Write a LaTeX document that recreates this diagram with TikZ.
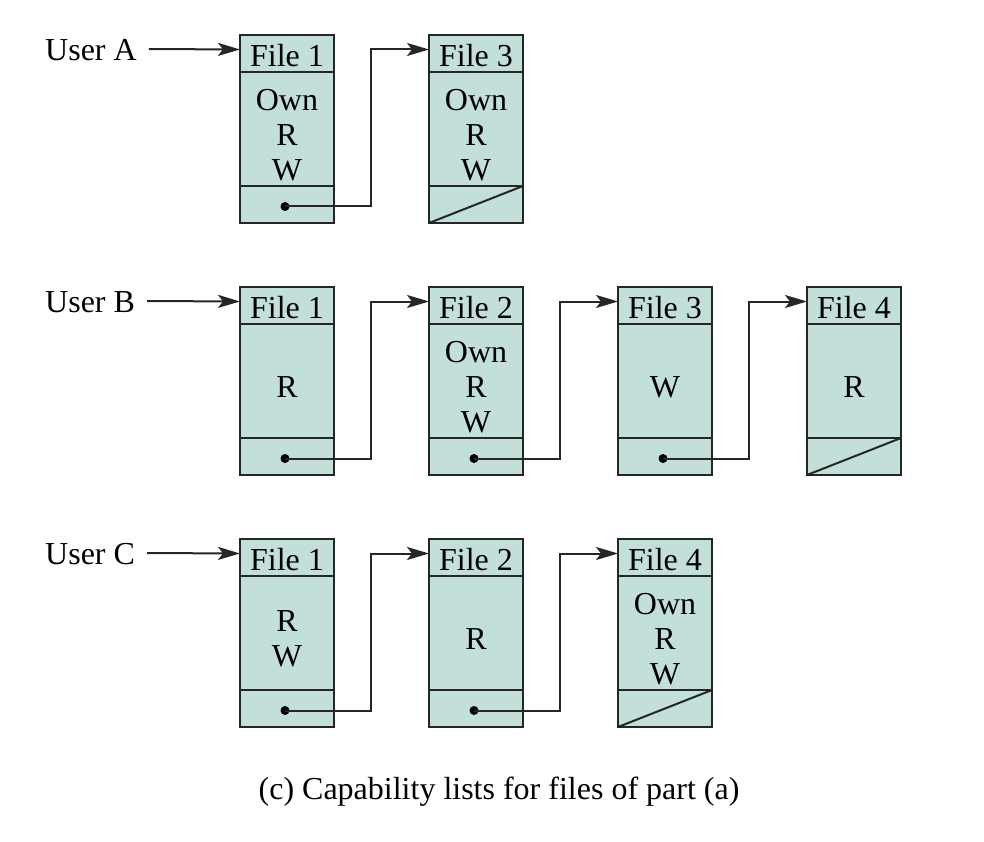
\documentclass[tikz,border=0pt]{standalone}
\usepackage{fontspec}
\setmainfont{Liberation Serif}
\usetikzlibrary{arrows.meta,calc}
\definecolor{cellfill}{RGB}{194,224,217}
\tikzset{
  cell/.style={draw=black!85, line width=2.2pt, fill=cellfill, minimum width=94pt, inner sep=0pt, outer sep=0pt, anchor=north},
  head/.style={cell, minimum height=37pt},
  body/.style={cell, minimum height=114pt},
  ptr/.style={cell, minimum height=37pt},
  txt/.style={font=\fontsize{32}{35}\selectfont, align=center, inner sep=0pt},
  link/.style={line width=2pt, draw=black!85, -{Stealth[length=22pt,width=13pt,inset=5pt]}},
  lbl/.style={font=\fontsize{32}{35}\selectfont, inner sep=0pt},
  dotc/.style={circle, fill=black, inner sep=0pt, minimum size=9pt}
}
\newcommand{\filecell}[5]{%
  \node[head] (#1h) at (#2,#3) {};
  \node[body] (#1b) at (#1h.south) {};
  \node[ptr] (#1p) at (#1b.south) {};
  \node[txt] (#1ht) at ($(#1h.center)+(0,2)$) {#4};
  \node[txt] (#1bt) at ($(#1b.center)+(0,6)$) {#5};
}
\begin{document}
\begin{tikzpicture}[x=1pt,y=-1pt]
\useasboundingbox (0,0) rectangle (984,842);
% Row A
\filecell{a1}{287}{35}{File 1}{Own\\R\\W}
\filecell{a3}{476}{35}{File 3}{Own\\R\\W}
% Row B
\filecell{b1}{287}{287}{File 1}{R}
\filecell{b2}{476}{287}{File 2}{Own\\R\\W}
\filecell{b3}{665}{287}{File 3}{W}
\filecell{b4}{854}{287}{File 4}{R}
% Row C
\filecell{c1}{287}{539}{File 1}{R\\W}
\filecell{c2}{476}{539}{File 2}{R}
\filecell{c4}{665}{539}{File 4}{Own\\R\\W}

% user labels
\node[lbl, anchor=west] (ua) at (45,50) {User A};
\node[lbl, anchor=west] (ub) at (45,302) {User B};
\node[lbl, anchor=west] (uc) at (45,554) {User C};
\draw[link] ($(ua.east)+(12,-1)$) -- ($(a1h.west)+(0,-4)$);
\draw[link] ($(ub.east)+(12,-1)$) -- ($(b1h.west)+(0,-4)$);
\draw[link] ($(uc.east)+(12,-1)$) -- ($(c1h.west)+(0,-4)$);

% pointers
\foreach \s/\t in {a1/a3, b1/b2, b2/b3, b3/b4, c1/c2, c2/c4}{
  \node[dotc] (\s d) at ($(\s p.center)+(-2,2)$) {};
  \draw[link] (\s d.center) -| ($(\s p.east)+(37,0)$) |- ($(\t h.west)+(0,-4)$);
}
% null pointers
\foreach \t in {a3, b4, c4}{
  \draw[line width=2pt, draw=black!85] (\t p.south west) -- (\t p.north east);
}

% caption
\node[lbl] (cap) at (499,792) {(c) Capability lists for files of part (a)};
\end{tikzpicture}
\end{document}
